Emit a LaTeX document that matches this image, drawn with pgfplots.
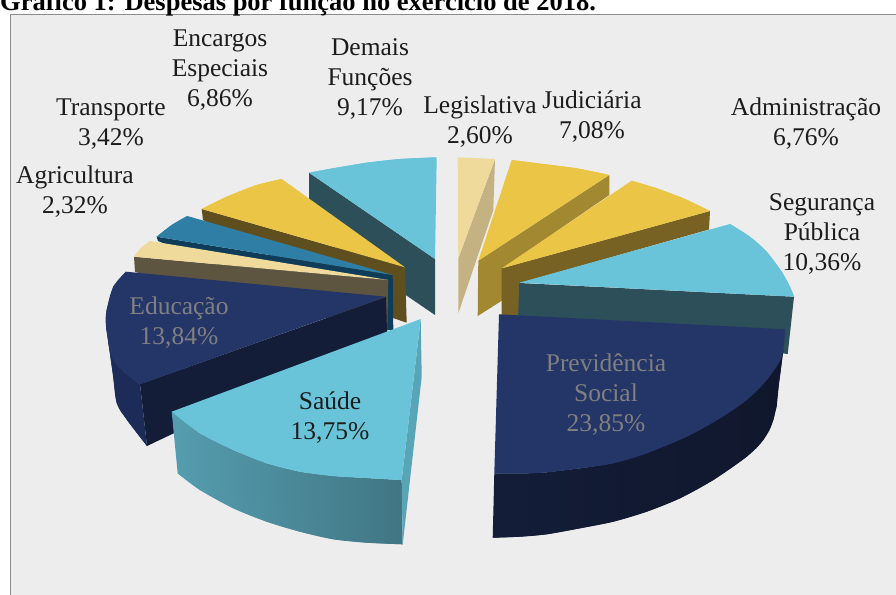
\documentclass[border=0pt]{standalone}
\usepackage{pgfplots}
\pgfplotsset{compat=1.18}
\usepackage{fontspec}
\setmainfont{Liberation Serif}

% Panel and slice colours
\definecolor{panel}{HTML}{EDEDED}
\definecolor{panelline}{HTML}{8C8C8C}
\definecolor{cyantop}{HTML}{69C4D9}
\definecolor{cyandark}{HTML}{2D4F59}
\definecolor{cyanedge}{HTML}{59A5B8}
\definecolor{gold}{HTML}{EBC546}
\definecolor{goldA}{HTML}{5F4F1F}
\definecolor{goldB}{HTML}{A18831}
\definecolor{goldC}{HTML}{776224}
\definecolor{blue}{HTML}{2E7EA6}
\definecolor{bluedark}{HTML}{0F3C58}
\definecolor{cream}{HTML}{F0DA9B}
\definecolor{creamA}{HTML}{5E5540}
\definecolor{creamB}{HTML}{C4B283}
\definecolor{navy}{HTML}{243567}
\definecolor{navyA}{HTML}{141D38}
\definecolor{navyB}{HTML}{1C2B58}
\definecolor{labelgray}{HTML}{808080}
\definecolor{ink}{HTML}{1C1C1C}

\tikzset{lab/.style={align=center,inner sep=0pt,text=ink,font=\fontsize{25.5}{30}\selectfont}}

\begin{document}
\begin{tikzpicture}
\path[use as bounding box,clip] (0,0) rectangle (896pt,594pt);
\begin{axis}[
  at={(0,0)},anchor=south west,
  scale only axis,width=896pt,height=594pt,
  xmin=0,xmax=896,ymin=0,ymax=594,y dir=reverse,
  hide axis,no markers,
  every axis plot/.append style={forget plot,draw=none,line width=0pt},
  curved/.style={smooth,tension=0.55},
]
% panel behind the chart
\addplot[fill=panel,draw=panelline,line width=1pt] coordinates {(10.5,14.5)(900,14.5)(900,600)(10.5,600)} --cycle;

% Each slice: wall(s), then top face; a curved cap closes over the rim of the polygon.
% Demais Funcoes
\addplot[fill=cyandark] coordinates {(309,172.7)(435,259)(435,315)(309,229)} --cycle;
\addplot[fill=cyantop] coordinates {(436.7,157.3)(400,159)(366.7,162.7)(333,168.3)(309,172.7)(435,259)} --cycle;
\addplot[fill=cyantop,curved] coordinates {(436.7,157.3)(400,159)(366.7,162.7)(333,168.3)(309,172.7)} --cycle;

% Encargos Especiais
\addplot[fill=goldA] coordinates {(201.7,209)(405,267.3)(406.7,322.7)(390,317)(203,220)} --cycle;
\addplot[fill=gold] coordinates {(405,267.3)(281.7,179)(256.7,185)(226.7,196.7)(201.7,209)} --cycle;
\addplot[fill=gold,curved] coordinates {(281.7,179)(256.7,185)(226.7,196.7)(201.7,209)} --cycle;

% Transporte
\addplot[fill=bluedark] coordinates {(156.7,236.7)(392.7,275)(393.3,330)(380,330)(158,241)} --cycle;
\addplot[fill=blue] coordinates {(392.7,275)(187.3,216)(171.7,225)(156.7,236.7)} --cycle;
\addplot[fill=blue,curved] coordinates {(187.3,216)(171.7,225)(156.7,236.7)} --cycle;

% Agricultura
\addplot[fill=creamA] coordinates {(134,256.7)(388.3,280)(387.3,331)(380,331)(135,272)} --cycle;
\addplot[fill=cream] coordinates {(388.3,280)(150,241)(140.7,248.3)(134,256.7)} --cycle;
\addplot[fill=cream,curved] coordinates {(150,241)(140.7,248.3)(134,256.7)} --cycle;

% Educacao
\addplot[fill=navyB] coordinates {(126,271.7)(113.3,286.7)(106.7,310)(106,326)(111.7,357)(124,372)(140,384.3)(147,446)(127,420)(116.7,403)(112.7,373)(108,340)} --cycle;
\addplot[fill=navyB,curved] coordinates {(147,446)(127,420)(116.7,403)(112.7,373)(106,326)} --cycle;
\addplot[fill=navyA] coordinates {(140,384)(386,297)(387,332)(147,446)} --cycle;
\addplot[fill=navy] coordinates {(386,296.7)(126,271.7)(113.3,286.7)(106.7,310)(106,326)(111.7,357)(124,372)(140,384.3)} --cycle;
\addplot[fill=navy,curved] coordinates {(126,271.7)(113.3,286.7)(106.7,310)(106,326)(111.7,357)(124,372)(140,384.3)} --cycle;

% Saude
\addplot[left color=cyanedge!95!black,right color=cyandark!55!cyanedge] coordinates {(171.7,411.7)(200,433.3)(233.3,450)(266.7,463.3)(300,471.7)(333.3,476)(366.7,478)(401.7,480)(402.7,544.3)(366.7,542.7)(333.3,539.3)(300,531.7)(266.7,521.7)(233.3,508.3)(200,490)(177.7,473.3)} --cycle;
\addplot[left color=cyanedge!95!black,right color=cyandark!55!cyanedge,curved] coordinates {(402.7,544.3)(366.7,542.7)(333.3,539.3)(300,531.7)(266.7,521.7)(233.3,508.3)(200,490)(177.7,473.3)} --cycle;
\addplot[fill=cyanedge] coordinates {(420.7,319)(401.7,480)(402.7,544.3)(421.7,376.7)} --cycle;
\addplot[fill=cyantop] coordinates {(420.7,319)(171.7,411.7)(200,433.3)(233.3,450)(266.7,463.3)(300,471.7)(333.3,476)(366.7,478)(401.7,480)} --cycle;
\addplot[fill=cyantop,curved] coordinates {(171.7,411.7)(200,433.3)(233.3,450)(266.7,463.3)(300,471.7)(333.3,476)(366.7,478)(401.7,480)} --cycle;

% Legislativa
\addplot[fill=creamB] coordinates {(495,159)(458.3,258.3)(458.3,313.3)(493.3,210)} --cycle;
\addplot[fill=cream] coordinates {(457.7,157.3)(495,159)(458.3,258.3)} --cycle;

% Judiciaria
\addplot[fill=goldB] coordinates {(609.3,175)(478.3,260.7)(477.7,316)(503,300)(503,268)(609.3,195)} --cycle;
\addplot[fill=gold] coordinates {(511.7,160)(543.3,164)(576.7,168.3)(609.3,175)(478.3,260.7)} --cycle;
\addplot[fill=gold,curved] coordinates {(511.7,160)(543.3,164)(576.7,168.3)(609.3,175)} --cycle;

% Administracao
\addplot[fill=goldC] coordinates {(710,211)(501.7,268.3)(501.7,316)(520,316)(520,283)(709,229.5)} --cycle;
\addplot[fill=gold] coordinates {(501.7,268.3)(631.7,180.7)(656.7,188.3)(683.3,198.3)(710,211)} --cycle;
\addplot[fill=gold,curved] coordinates {(631.7,180.7)(656.7,188.3)(683.3,198.3)(710,211)} --cycle;

% Seguranca Publica
\addplot[fill=cyandark] coordinates {(519.3,283)(794,296.7)(787.7,354)(518,320)} --cycle;
\addplot[fill=cyantop] coordinates {(519.3,282.7)(730,224)(750,236.7)(766.7,251.7)(781.7,271.7)(790,286.7)(794,296.7)} --cycle;
\addplot[fill=cyantop,curved] coordinates {(730,224)(750,236.7)(766.7,251.7)(781.7,271.7)(790,286.7)(794,296.7)} --cycle;

% Previdencia Social
\addplot[left color=navyA,right color=navyA!80!black] coordinates {(494.3,473.3)(520,473.7)(546.7,472.3)(580,468.3)(613.3,463.3)(646.7,453.3)(686.7,436.7)(720,418.3)(746.7,400)(766.7,380)(783.3,350)(779,383)(776.7,406.7)(773.3,420)(763.3,440)(746.7,456.7)(713.3,480)(680,498.3)(646.7,511.7)(613.3,521.7)(580,528.3)(546.7,534.3)(520,536.7)(492.7,537.7)} --cycle;
\addplot[left color=navyA,right color=navyA!80!black,curved] coordinates {(783.3,350)(779,383)(773.3,420)(763.3,440)(746.7,456.7)(713.3,480)(680,498.3)(646.7,511.7)(613.3,521.7)(580,528.3)(546.7,534.3)(520,536.7)(492.7,537.7)} --cycle;
\addplot[fill=navy] coordinates {(499,314.3)(785,329.3)(781.7,356.7)(766.7,380)(746.7,400)(720,418.3)(686.7,436.7)(646.7,453.3)(613.3,463.3)(580,468.3)(546.7,472.3)(520,473.7)(494.3,473.3)} --cycle;
\addplot[fill=navy,curved] coordinates {(785,329.3)(781.7,356.7)(766.7,380)(746.7,400)(720,418.3)(686.7,436.7)(646.7,453.3)(613.3,463.3)(580,468.3)(546.7,472.3)(520,473.7)(494.3,473.3)} --cycle;

% heading of the chart, cut by the page edge
\node[anchor=base west,inner sep=0pt,font=\fontsize{26.5}{28}\bfseries\selectfont] at (axis cs:0,11) {Gráfico 1: Despesas por função no exercício de 2018.};

% slice labels
\node[lab] at (axis cs:220,70) {Encargos\\Especiais\\6,86\%};
\node[lab] at (axis cs:370,79) {Demais\\Funções\\9,17\%};
\node[lab] at (axis cs:111,124) {Transporte\\3,42\%};
\node[lab] at (axis cs:480,122) {Legislativa\\2,60\%};
\node[lab] at (axis cs:592,117) {Judiciária\\7,08\%};
\node[lab] at (axis cs:806,124) {Administração\\6,76\%};
\node[lab] at (axis cs:822,234) {Segurança\\Pública\\10,36\%};
\node[lab] at (axis cs:75,192) {Agricultura\\2,32\%};
\node[lab,text=labelgray] at (axis cs:179,323) {Educação\\13,84\%};
\node[lab,text=labelgray] at (axis cs:606,395) {Previdência\\Social\\23,85\%};
\node[lab] at (axis cs:330,418) {Saúde\\13,75\%};
\end{axis}
\end{tikzpicture}
\end{document}
